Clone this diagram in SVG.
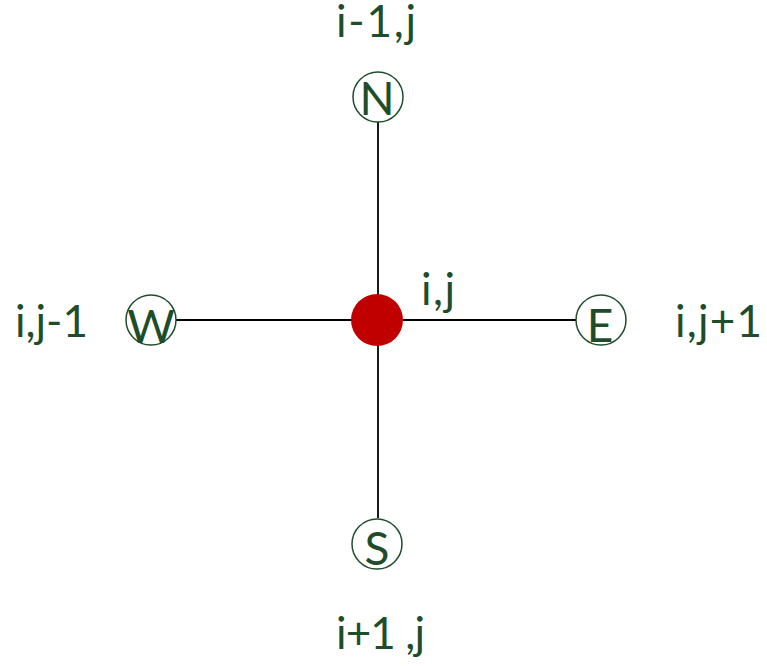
<svg xmlns="http://www.w3.org/2000/svg" width="767" height="666" viewBox="0 0 767 666">
<style>
.lbl{font-family:Lato,"Liberation Sans",sans-serif;font-size:44px;fill:#1e4d2b}
.ltr{font-family:Lato,"Liberation Sans",sans-serif;font-size:46px;fill:#1e4d2b;text-anchor:middle}
.ring{fill:#ffffff;stroke:#1e4d2b;stroke-width:1.5}
.conn{stroke:#000000;stroke-width:1.8}
</style>
<rect width="767" height="666" fill="#ffffff"/>
<g id="connectors">
<line class="conn" x1="378" y1="122" x2="378" y2="518"/>
<line class="conn" x1="176" y1="320" x2="576" y2="320"/>
</g>
<g id="node-N">
<circle class="ring" cx="378" cy="97" r="25"/>
<text class="ltr" x="377" y="115">N</text>
<text class="lbl" x="336" y="37" textLength="80" lengthAdjust="spacing">i-1,j</text>
</g>
<g id="node-W">
<circle class="ring" cx="151" cy="320" r="25"/>
<text class="ltr" x="151" y="343">W</text>
<text class="lbl" x="15" y="337" textLength="73" lengthAdjust="spacing">i,j-1</text>
</g>
<g id="node-E">
<circle class="ring" cx="601" cy="320" r="25"/>
<text class="ltr" x="600" y="342">E</text>
<text class="lbl" x="675" y="337" textLength="87" lengthAdjust="spacing">i,j+1</text>
</g>
<g id="node-S">
<circle class="ring" cx="377" cy="544" r="25"/>
<text class="ltr" x="377" y="565">S</text>
<text class="lbl" x="336" y="649" textLength="89" lengthAdjust="spacing">i+1 ,j</text>
</g>
<g id="node-center">
<circle cx="377" cy="320" r="26" fill="#c00000"/>
<text class="lbl" x="421" y="305" textLength="34" lengthAdjust="spacing">i,j</text>
</g>
</svg>
